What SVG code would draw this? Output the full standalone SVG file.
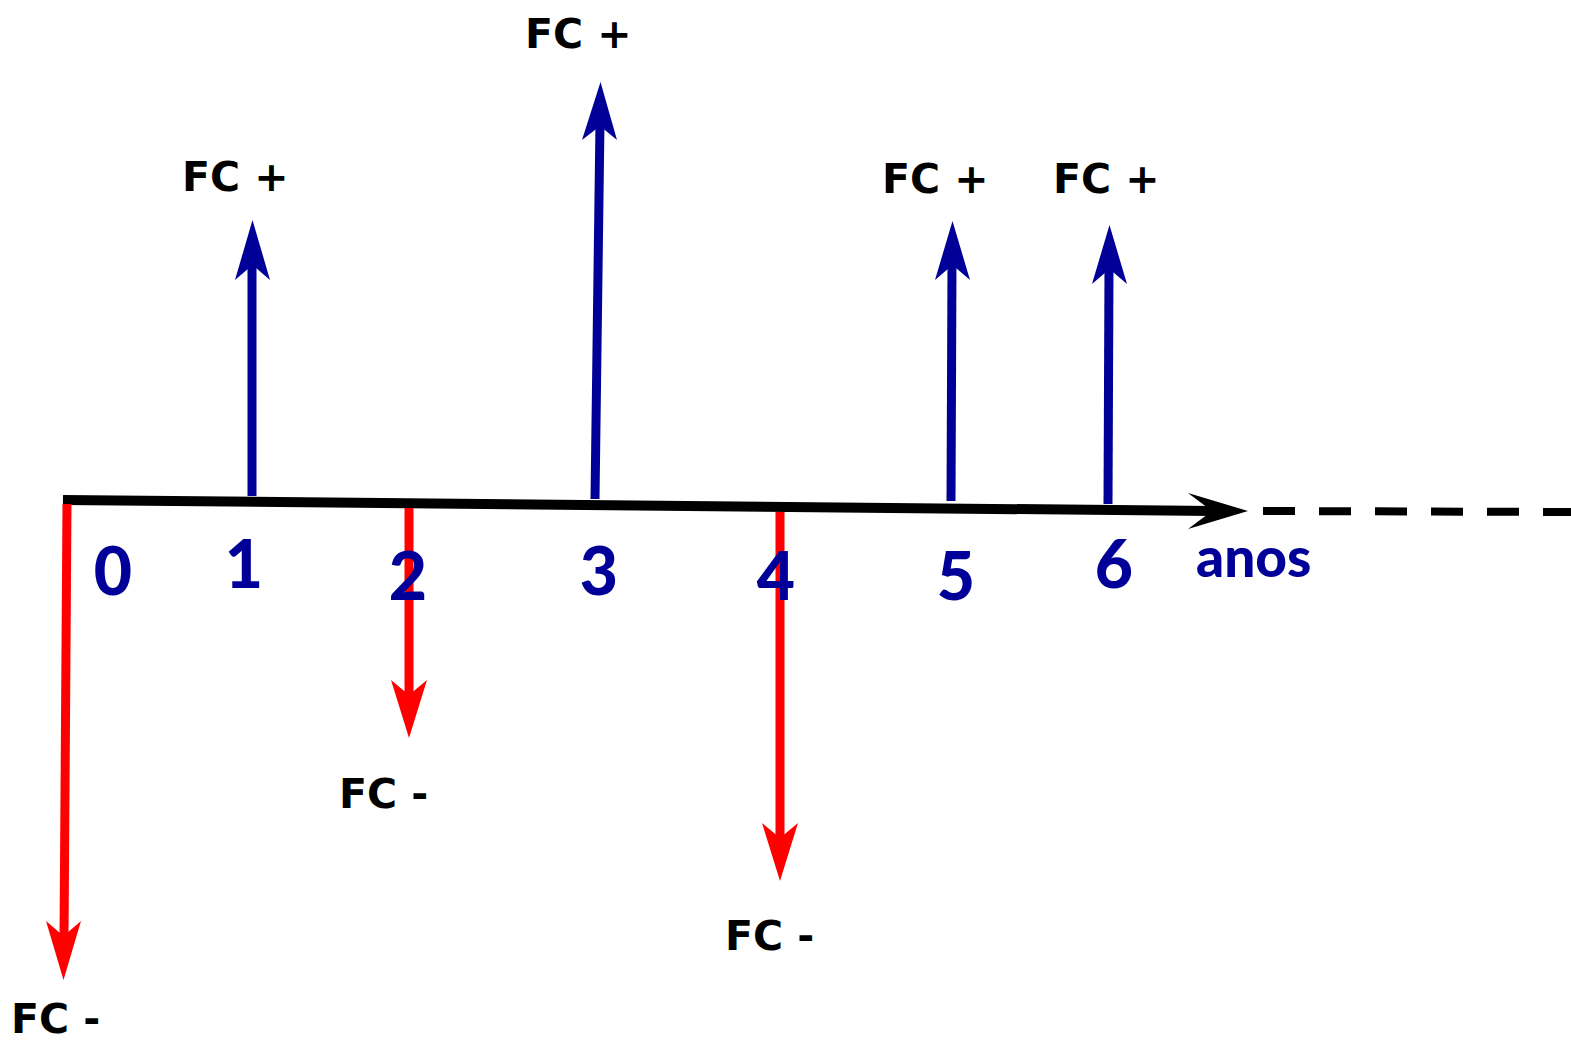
<svg xmlns="http://www.w3.org/2000/svg" width="1571" height="1041" viewBox="0 0 1571 1041">
<style>
.fc{font-family:"DejaVu Sans",sans-serif;font-weight:bold;font-size:41px;fill:#000}
.num{font-family:Lato,"Liberation Sans",sans-serif;font-weight:900;font-size:66px;fill:#000099;text-anchor:middle}
.anos{font-family:Lato,"Liberation Sans",sans-serif;font-weight:900;font-size:55px;fill:#000099}
.pos{stroke:#000099;stroke-width:9;fill:none}
.neg{stroke:#ff0000;stroke-width:9;fill:none}
.hp{fill:#000099}
.hn{fill:#ff0000}
</style>
<g id="connectors">
  <line x1="63" y1="500" x2="1214" y2="511" stroke="#000" stroke-width="10"/>
  <path d="M1248,511 L1188,493 L1212,511 L1188,529 Z" fill="#000"/>
  <line x1="1263" y1="511" x2="1571" y2="512" stroke="#000" stroke-width="8" stroke-dasharray="32 24"/>
  <line class="pos" x1="252" y1="496" x2="252" y2="260"/>
  <path class="hp" d="M252.5,220 L270,280 L252.5,265 L235,280 Z"/>
  <line class="pos" x1="595" y1="499" x2="600" y2="122"/>
  <path class="hp" d="M600.5,82 L617,140 L600,126 L582,140 Z"/>
  <line class="pos" x1="951" y1="501" x2="952" y2="262"/>
  <path class="hp" d="M952.5,221 L970,280 L952.5,265 L935,280 Z"/>
  <line class="pos" x1="1108" y1="504" x2="1109" y2="266"/>
  <path class="hp" d="M1109.5,225 L1127,284 L1109.5,269 L1092,284 Z"/>
  <line class="neg" x1="67" y1="504" x2="64" y2="940"/>
  <path class="hn" d="M63.5,980 L46,921 L63.5,936 L81,921 Z"/>
  <line class="neg" x1="409" y1="508" x2="409" y2="698"/>
  <path class="hn" d="M409,738 L391,680 L409,695 L427,680 Z"/>
  <line class="neg" x1="780" y1="512" x2="780" y2="842"/>
  <path class="hn" d="M780,881 L762,823 L780,838 L798,823 Z"/>
</g>
<g id="labels-pos">
  <text class="fc" x="182" y="191">FC +</text>
  <text class="fc" x="525" y="48">FC +</text>
  <text class="fc" x="882" y="193">FC +</text>
  <text class="fc" x="1053" y="193">FC +</text>
</g>
<g id="labels-neg">
  <text class="fc" x="339" y="808">FC -</text>
  <text class="fc" x="725" y="950">FC -</text>
  <text class="fc" x="11" y="1033">FC -</text>
</g>
<g id="axis-labels">
  <text class="num" x="113" y="595">0</text>
  <text class="num" x="244" y="588">1</text>
  <text class="num" x="408" y="600">2</text>
  <text class="num" x="599" y="595">3</text>
  <text class="num" x="776" y="600">4</text>
  <text class="num" x="956" y="600">5</text>
  <text class="num" x="1114" y="588">6</text>
  <text class="anos" x="1196" y="577">anos</text>
</g>
</svg>
